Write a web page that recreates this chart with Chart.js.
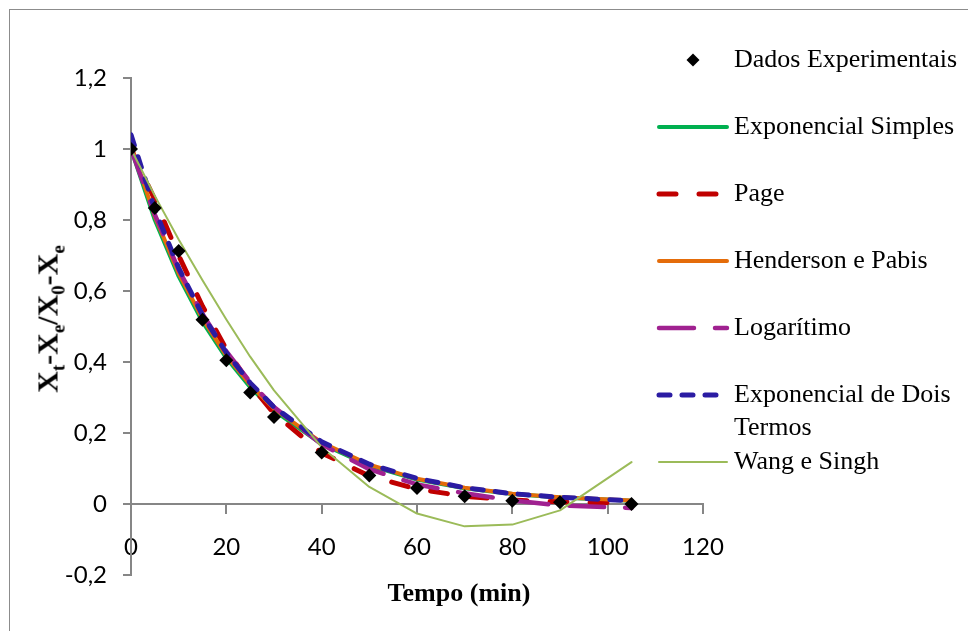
<!DOCTYPE html>
<html>
<head>
<meta charset="utf-8">
<script src="https://cdn.jsdelivr.net/npm/chart.js@4.4.1/dist/chart.umd.min.js"></script>
<style>
  html, body { margin: 0; padding: 0; background: #fff; }
  #wrap { position: relative; width: 968px; height: 631px; overflow: hidden; background: #fff; }
  #frame { position: absolute; left: 9px; top: 9px; width: 1000px; height: 700px;
           border-left: 1px solid #8c8c8c; border-top: 1px solid #8c8c8c; }
  #chart { position: absolute; left: 0; top: 0; }
  .axis-title { position: absolute; font: bold 26px "Liberation Serif", "Times New Roman", serif;
                color: #000; white-space: nowrap; line-height: 1; }
  #yTitle { left: 50px; top: 319px; font-size: 30px; transform: translate(-50%, -50%) rotate(-90deg); }
  #yTitle sub { font-size: 19px; vertical-align: -7px; }
  #xTitle { left: 459px; top: 593px; transform: translate(-50%, -50%); }
</style>
</head>
<body>
<div id="wrap">
  <div id="frame"></div>
  <canvas id="chart" width="968" height="631"></canvas>
  <div id="yTitle" class="axis-title">X<sub>t</sub>-X<sub>e</sub>/X<sub>0</sub>-X<sub>e</sub></div>
  <div id="xTitle" class="axis-title">Tempo (min)</div>
</div>
<script>
// tempos de secagem (min)
const tempo = [0, 5, 10, 15, 20, 25, 30, 40, 50, 60, 70, 80, 90, 105];

// razão de umidade observada e ajustada por cada modelo
const dadosExperimentais = [1, 0.834, 0.713, 0.519, 0.405, 0.314, 0.245, 0.145, 0.080, 0.045, 0.022, 0.009, 0.005, 0];
const expSimples        = [1, 0.800, 0.641, 0.513, 0.411, 0.329, 0.263, 0.169, 0.108, 0.069, 0.044, 0.028, 0.018, 0.009];
const page              = [1, 0.857, 0.700, 0.557, 0.436, 0.336, 0.255, 0.144, 0.079, 0.042, 0.022, 0.011, 0.006, 0.002];
const hendersonPabis    = [1.01, 0.810, 0.650, 0.522, 0.418, 0.336, 0.269, 0.173, 0.111, 0.071, 0.046, 0.029, 0.019, 0.010];
const logaritimo        = [1, 0.815, 0.660, 0.535, 0.430, 0.343, 0.273, 0.168, 0.098, 0.055, 0.030, 0.010, -0.004, -0.011];
const expDoisTermos     = [1.04, 0.830, 0.665, 0.532, 0.426, 0.341, 0.273, 0.175, 0.112, 0.072, 0.046, 0.029, 0.019, 0.009];
const wangSingh         = [1, 0.868, 0.745, 0.630, 0.520, 0.415, 0.320, 0.160, 0.048, -0.027, -0.063, -0.058, -0.018, 0.118];

const seriesNames = ['Dados Experimentais', 'Exponencial Simples', 'Page', 'Henderson e Pabis',
                     'Logarítimo', 'Exponencial de Dois Termos', 'Wang e Singh'];

const xTicks = [0, 20, 40, 60, 80, 100, 120];
const yTickLabels = ['-0,2', '0', '0,2', '0,4', '0,6', '0,8', '1', '1,2'];

const pts = ys => tempo.map((t, i) => ({ x: t, y: ys[i] }));

function serie(name, ys, color, width, dash, order) {
  return {
    label: name, data: pts(ys), showLine: true, order: order,
    borderColor: color, backgroundColor: color, borderWidth: width,
    borderDash: dash, borderCapStyle: 'round', borderJoinStyle: 'round',
    pointRadius: 0, tension: 0
  };
}

const datasets = [
  { label: seriesNames[0], data: pts(dadosExperimentais), showLine: false, order: 0,
    pointStyle: 'rectRot', pointRadius: 7, pointBorderWidth: 0,
    backgroundColor: '#000', borderColor: '#000' },
  serie(seriesNames[1], expSimples, '#00b050', 4, [], 6),
  serie(seriesNames[2], page, '#c00000', 5, [17, 23], 5),
  serie(seriesNames[3], hendersonPabis, '#e46c0a', 4, [], 4),
  serie(seriesNames[4], logaritimo, '#a02190', 4.5, [35, 21], 3),
  serie(seriesNames[5], expDoisTermos, '#2b1ca3', 5, [11, 12], 2),
  serie(seriesNames[6], wangSingh, '#9bbb59', 2, [], 1)
];

// legenda à direita, no estilo do Excel
const legendaLateral = {
  id: 'legendaLateral',
  afterDraw(chart) {
    const ctx = chart.ctx;
    const x0 = 657, x1 = 729, tx = 734, maxW = 232;
    let y = 60;
    ctx.save();
    ctx.font = '26px "Liberation Serif", "Times New Roman", serif';
    ctx.textBaseline = 'middle';
    chart.data.datasets.forEach(ds => {
      if (ds.showLine === false) {
        const cx = (x0 + x1) / 2, r = 6.5;
        ctx.fillStyle = ds.backgroundColor;
        ctx.beginPath();
        ctx.moveTo(cx, y - r); ctx.lineTo(cx + r, y); ctx.lineTo(cx, y + r); ctx.lineTo(cx - r, y);
        ctx.closePath();
        ctx.fill();
      } else {
        ctx.strokeStyle = ds.borderColor;
        ctx.lineWidth = ds.borderWidth;
        ctx.lineCap = 'round';
        ctx.setLineDash(ds.borderDash || []);
        ctx.beginPath();
        ctx.moveTo(x0 + 2, y); ctx.lineTo(x1 - 2, y);
        ctx.stroke();
        ctx.setLineDash([]);
      }
      // quebra de linha simples
      const words = ds.label.split(' ');
      const lines = [];
      let cur = '';
      words.forEach(w => {
        const test = cur ? cur + ' ' + w : w;
        if (ctx.measureText(test).width > maxW && cur) { lines.push(cur); cur = w; }
        else cur = test;
      });
      lines.push(cur);
      ctx.fillStyle = '#000';
      lines.forEach((ln, i) => ctx.fillText(ln, tx, y + i * 33));
      y += 67;
    });
    ctx.restore();
  }
};

const axisColor = '#868686';
const tickFont = { family: 'Lato', size: 24 };

new Chart(document.getElementById('chart'), {
  type: 'scatter',
  data: { datasets },
  options: {
    responsive: false,
    animation: false,
    layout: { padding: { top: 78, right: 265, bottom: 56, left: 0 } },
    plugins: { legend: { display: false }, tooltip: { enabled: false } },
    scales: {
      x: {
        type: 'linear', position: { y: 0 },
        min: xTicks[0], max: xTicks[xTicks.length - 1],
        ticks: { stepSize: xTicks[1] - xTicks[0], color: '#000', font: tickFont, padding: 20, maxRotation: 0 },
        grid: { drawOnChartArea: false, drawTicks: true, tickLength: 9, color: axisColor, lineWidth: 2 },
        border: { color: axisColor, width: 2 }
      },
      y: {
        type: 'linear', min: -0.2, max: 1.2,
        afterFit(scale) { scale.width = 131; },
        ticks: { stepSize: 0.2, color: '#000', font: tickFont, padding: 16,
                 callback: (v, i) => yTickLabels[i] },
        grid: { drawOnChartArea: false, drawTicks: true, tickLength: 8, color: axisColor, lineWidth: 2 },
        border: { color: axisColor, width: 2 }
      }
    }
  },
  plugins: [legendaLateral]
});
</script>
</body>
</html>
